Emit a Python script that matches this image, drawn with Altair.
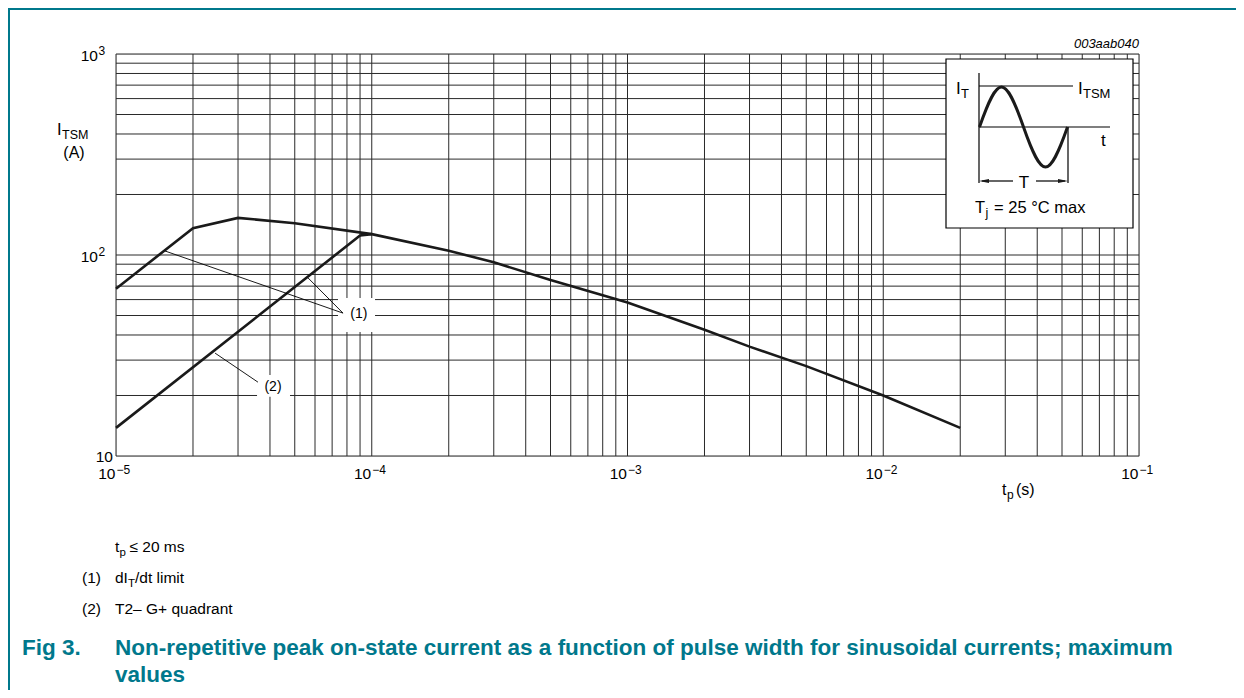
import altair as alt
import pandas as pd

# ---------------- data ----------------
# curve (1): dI_T/dt limit + envelope, I_TSM (A) vs t_p (s)
t_limit = [1e-5, 2e-5, 3e-5, 5e-5, 1e-4, 2e-4, 3e-4, 5e-4, 1e-3, 2e-3, 3e-3, 5e-3, 1e-2, 2e-2]
i_limit = [68, 136, 153, 144, 127, 105, 92, 75, 58, 42.5, 35, 28, 20, 13.8]
# curve (2): T2- G+ quadrant
t_quad = [1e-5, 9e-5, 1e-4]
i_quad = [13.8, 125, 127]

# grid / tick values
x_grid = [m * 10.0 ** e for e in range(-5, -1) for m in range(1, 10)] + [1e-1]
y_grid = [m * 10.0 ** e for e in range(1, 3) for m in range(1, 10)] + [1000]
x_dec = [1e-5, 1e-4, 1e-3, 1e-2, 1e-1]
x_exp = ["\u22125", "\u22124", "\u22123", "\u22122", "\u22121"]
y_dec = [100, 1000]
y_exp = ["2", "3"]

# annotation labels (data coordinates)
ann_text = ["(1)", "(2)"]
ann_x = [8.9e-5, 4.11e-5]
ann_y = [50.9, 22.0]
ann_x0 = [7.38e-5, 3.56e-5]
ann_x1 = [1.03e-4, 4.79e-5]
ann_y0 = [41.4, 19.7]
ann_y1 = [61.1, 25.3]
lead_x0 = [1.555e-5, 5.63e-5, 2.44e-5]
lead_y0 = [104.7, 77.0, 32.5]
lead_x1 = [7.72e-5, 7.72e-5, 3.59e-5]
lead_y1 = [51.4, 51.4, 23.3]

FONT = "Liberation Sans, Arial, Helvetica, sans-serif"
TEAL = "#00788c"
INK = "#1a1a1a"
GRID = "#2a2a2a"

curves = pd.concat([
    pd.DataFrame({"t": t_limit, "i": i_limit, "s": "limit"}),
    pd.DataFrame({"t": t_quad, "i": i_quad, "s": "quad"}),
])
ann = pd.DataFrame({"txt": ann_text, "x": ann_x, "y": ann_y,
                    "x0": ann_x0, "x1": ann_x1, "y0": ann_y0, "y1": ann_y1})
leads = pd.DataFrame({"x0": lead_x0, "y0": lead_y0, "x1": lead_x1, "y1": lead_y1})
xlab = pd.DataFrame({"v": x_dec, "e": x_exp})
ylab = pd.DataFrame({"v": y_dec, "e": y_exp})
ylab10 = pd.DataFrame({"v": [10]})
xg = pd.DataFrame({"v": x_grid})
yg = pd.DataFrame({"v": y_grid})
one = pd.DataFrame({"k": [0]})

xs = alt.Scale(type="log", domain=[1e-5, 1e-1], nice=False)
ys = alt.Scale(type="log", domain=[10, 1000], nice=False)


def X(f):
    return alt.X(f, type="quantitative", scale=xs, axis=None)


def Y(f):
    return alt.Y(f, type="quantitative", scale=ys, axis=None)


def txt(s, x, y, size=15, align="left", weight="normal", color="#000", style="normal"):
    return alt.Chart(one).mark_text(
        text=s, align=align, baseline="alphabetic", fontSize=size, font=FONT,
        fontWeight=weight, fontStyle=style, color=color
    ).encode(x=alt.value(x), y=alt.value(y))


def prule(x1, y1, x2, y2, w=1.2, color="#000"):
    return alt.Chart(one).mark_rule(color=color, strokeWidth=w).encode(
        x=alt.value(x1), x2=alt.value(x2), y=alt.value(y1), y2=alt.value(y2))


def glyph(path, x, y, size, filled, w=1.0):
    if filled:
        m = alt.Chart(one).mark_point(shape=path, size=size, filled=True, color=INK,
                                      opacity=1, strokeWidth=0)
    else:
        m = alt.Chart(one).mark_point(shape=path, size=size, filled=False, color=INK,
                                      opacity=1, strokeWidth=w)
    return m.encode(x=alt.value(x), y=alt.value(y))


# grid
xgrid_l = alt.Chart(xg).mark_rule(color=GRID, strokeWidth=1).encode(x=X("v"))
ygrid_l = alt.Chart(yg).mark_rule(color=GRID, strokeWidth=1).encode(y=Y("v"))

# curves
lines = alt.Chart(curves).mark_line(color=INK, strokeWidth=2.6).encode(
    x=X("t"), y=Y("i"), detail="s:N", order="t:Q")

label_boxes = alt.Chart(ann).mark_rect(color="white").encode(
    x=X("x0"), x2="x1", y=Y("y0"), y2="y1")
label_text = alt.Chart(ann).mark_text(fontSize=14, font=FONT, color="#000").encode(
    x=X("x"), y=Y("y"), text="txt:N")
leaders = alt.Chart(leads).mark_rule(color="#000", strokeWidth=0.9).encode(
    x=X("x0"), x2="x1", y=Y("y0"), y2="y1")

# tick labels
xl_base = alt.Chart(xlab).mark_text(text="10", align="right", baseline="alphabetic",
                                    fontSize=15.5, font=FONT, dx=-0.5).encode(
    x=X("v"), y=alt.value(425))
xl_exp = alt.Chart(xlab).mark_text(align="left", baseline="alphabetic",
                                   fontSize=12, font=FONT, dx=0.5).encode(
    x=X("v"), y=alt.value(420), text="e:N")
yl_base = alt.Chart(ylab).mark_text(text="10", align="right", baseline="alphabetic",
                                    fontSize=15.5, font=FONT, dy=6.5).encode(
    x=alt.value(-18), y=Y("v"))
yl_exp = alt.Chart(ylab).mark_text(align="left", baseline="alphabetic",
                                   fontSize=12, font=FONT, dy=0.5).encode(
    x=alt.value(-17.5), y=Y("v"), text="e:N")
yl_10 = alt.Chart(ylab10).mark_text(text="10", align="right", baseline="alphabetic",
                                    fontSize=15.5, font=FONT, dy=5.5).encode(
    x=alt.value(-3), y=Y("v"))

# inset
SINE = "M-1,0 C-0.5756,-1.2121 -0.4244,-1.2121 0,0 C0.4244,1.2121 0.5756,1.2121 1,0"
ARROW_L = "M-1,0 L1,-0.42 L1,0.42 Z"
ARROW_R = "M1,0 L-1,-0.42 L-1,0.42 Z"
inset_box = alt.Chart(one).mark_rect(fill="white", stroke="#000", strokeWidth=1.2).encode(
    x=alt.value(830), x2=alt.value(1017), y=alt.value(5), y2=alt.value(174))
inset = [
    inset_box,
    prule(863, 19, 863, 129),
    prule(863, 32, 957, 32),
    prule(863, 73, 994, 73),
    prule(952, 73, 952, 129),
    prule(866, 127, 897, 127),
    prule(920, 127, 949, 127),
    glyph(ARROW_L, 868, 127, 100, True),
    glyph(ARROW_R, 947, 127, 100, True),
    glyph(SINE, 907.5, 73, 7744, False, 3),
    txt("I", 840, 40, 17), txt("T", 845, 44, 13),
    txt("I", 962, 40, 17), txt("TSM", 967, 44, 13),
    txt("t", 985, 92, 17),
    txt("T", 908, 134, 17, align="center"),
    txt("T", 859, 159, 16.5), txt("j", 869.5, 163, 12.5), txt("= 25 \u00b0C max", 878, 159, 16.5),
]

texts = [
    txt("003aab040", 1023, -6, 13, align="right", style="italic"),
    # y title
    txt("I", -59, 81, 16.5), txt("TSM", -54, 85, 12.5), txt("(A)", -42, 104, 16, align="center"),
    # x title
    txt("t", 886, 441, 16), txt("p", 891, 445, 12), txt("(s)", 900, 441, 16),
    # notes
    txt("t", -1, 498, 15.5), txt("p", 3.5, 502, 11.5), txt("\u2264 20 ms", 13.5, 498, 15.5),
    txt("(1)", -34, 529, 15.5), txt("dI", -1, 529, 15.5), txt("T", 12, 533, 11.5),
    txt("/dt limit", 19, 529, 15.5),
    txt("(2)", -34, 560, 15.5), txt("T2\u2013 G+ quadrant", -1, 560, 15.5),
    # caption
    txt("Fig 3.", -94, 601, 22.5, weight="bold", color=TEAL),
    txt("Non-repetitive peak on-state current as a function of pulse width for sinusoidal currents; maximum",
        -1, 601, 22.5, weight="bold", color=TEAL),
    txt("values", -1, 628, 22.5, weight="bold", color=TEAL),
    # page frame
    prule(-108, -45, 1120, -45, 2, TEAL),
    prule(-107, -46, -107, 636, 2, TEAL),
]

chart = alt.layer(
    xgrid_l, ygrid_l, lines, label_boxes, leaders, label_text,
    xl_base, xl_exp, yl_base, yl_exp, yl_10,
    *inset, *texts,
).properties(
    width=1023, height=402,
    autosize=alt.AutoSizeParams(type="none"),
    padding={"left": 108, "top": 46, "right": 97, "bottom": 234},
).configure_view(stroke="#000", strokeWidth=1.2).configure(background="white")

chart.save("out.html", embed_options={"renderer": "svg", "actions": False})
